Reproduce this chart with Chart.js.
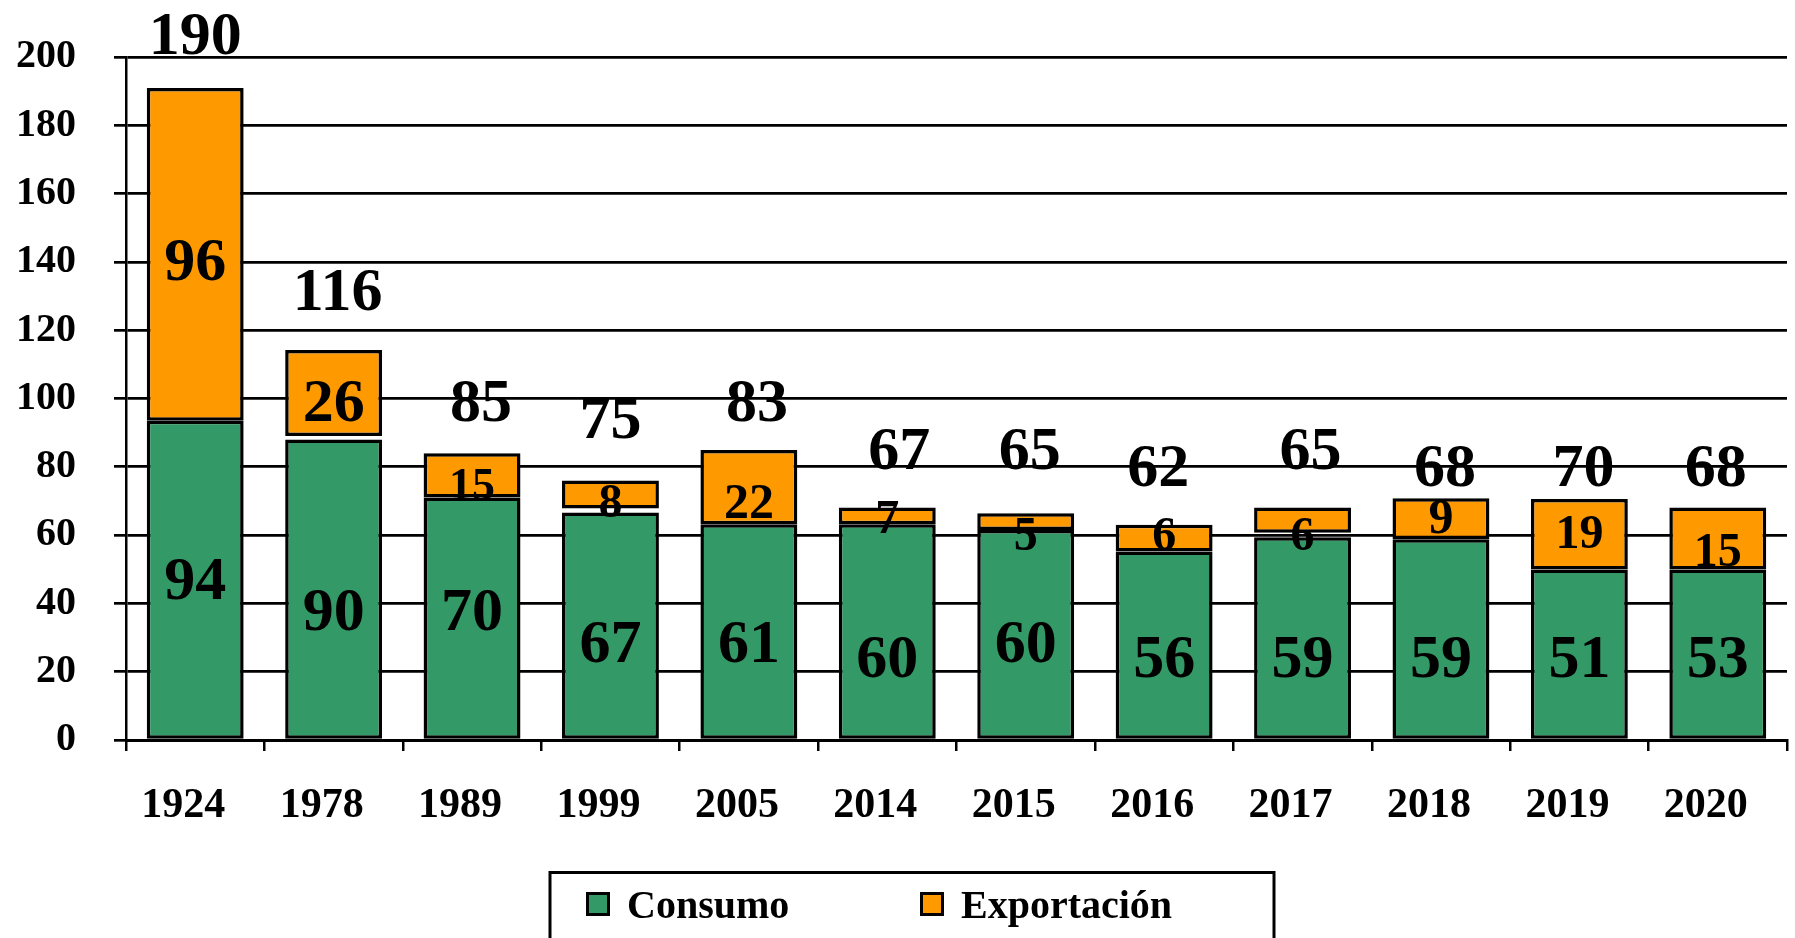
<!DOCTYPE html>
<html>
<head>
<meta charset="utf-8">
<script src="https://cdn.jsdelivr.net/npm/chart.js@4.4.1/dist/chart.umd.min.js"></script>
<style>
  html, body { margin: 0; padding: 0; background: #fff; }
  #wrap { width: 1795px; height: 938px; }
</style>
</head>
<body>
<div id="wrap"><canvas id="production"></canvas></div>
<script>
const years = ["1924", "1978", "1989", "1999", "2005", "2014", "2015", "2016", "2017", "2018", "2019", "2020"];

// bar extents as drawn in the picture
const consumo = [93.5, 88, 71, 66.6, 63.2, 63.2, 61.5, 55.2, 59.4, 58.8, 49.9, 49.9];
const exportLow = [93.5, 89, 71, 67.8, 63.2, 63.2, 61.5, 55.2, 60.7, 58.8, 49.9, 49.9];
const exportHigh = [190.9, 114.2, 84, 76, 84.9, 68.1, 66.4, 63, 68.1, 70.8, 70.6, 68.1];

// printed numbers
const consumoLabels = [94, 90, 70, 67, 61, 60, 60, 56, 59, 59, 51, 53];
const exportLabels = [96, 26, 15, 8, 22, 7, 5, 6, 6, 9, 19, 15];
const totalLabels = [190, 116, 85, 75, 83, 67, 65, 62, 65, 68, 70, 68];

const yMax = 200;
const yStep = 20;

// where the printed numbers sit (value units) and how big they are
const totalAt = [207, 132, 99.5, 94.5, 99.5, 85.5, 85.5, 80.5, 85.5, 80.5, 80.5, 80.5];
const totalShift = [0, 4, 9, 0, 8, 12, 4, -6, 8, 4, 4, -2];
const exportAt = [141, 99.5, 75, 70, 70, 65.5, 60.5, 60.5, 60.5, 65.5, 61, 55.7];
const consumoAt = [47.4, 38.3, 38.3, 29, 29, 24.5, 29, 24.5, 24.5, 24.5, 24.5, 24.5];
const exportSize = [62, 62, 46, 48, 50, 48, 48, 48, 48, 50, 48, 48];

const FONT = "'Liberation Serif', 'Times New Roman', serif";
const GREEN = "#339966";
const ORANGE = "#ff9900";

const numberLabels = {
  id: "numberLabels",
  afterDatasetsDraw(chart) {
    const ctx = chart.ctx;
    const y = chart.scales.y;
    const bars = chart.getDatasetMeta(0).data;
    ctx.save();
    ctx.fillStyle = "#000";
    ctx.textAlign = "center";
    ctx.textBaseline = "alphabetic";
    const put = (txt, i, at, size, dx) => {
      ctx.font = "bold " + size + "px " + FONT;
      ctx.fillText(String(txt), bars[i].x + dx, y.getPixelForValue(at) + size * 0.34);
    };
    years.forEach((yr, i) => {
      put(consumoLabels[i], i, consumoAt[i], 62, 0);
      put(exportLabels[i], i, exportAt[i], exportSize[i], 0);
      put(totalLabels[i], i, totalAt[i], 62, totalShift[i]);
    });
    ctx.restore();
  }
};

const boxLegend = {
  id: "boxLegend",
  afterDraw(chart) {
    const ctx = chart.ctx;
    const left = 550, top = 872.5, width = 724;
    ctx.save();
    ctx.lineWidth = 3;
    ctx.strokeStyle = "#000";
    ctx.strokeRect(left, top, width, 80);
    const items = [
      { text: "Consumo", color: GREEN, dx: 36 },
      { text: "Exportación", color: ORANGE, dx: 370 }
    ];
    ctx.font = "bold 40px " + FONT;
    ctx.textBaseline = "alphabetic";
    ctx.textAlign = "left";
    items.forEach(it => {
      ctx.fillStyle = "#000";
      ctx.fillRect(left + it.dx, 892, 24, 24);
      ctx.fillStyle = it.color;
      ctx.fillRect(left + it.dx + 3, 895, 18, 18);
      ctx.fillStyle = "#000";
      ctx.fillText(it.text, left + it.dx + 41, 918);
    });
    ctx.restore();
  }
};

new Chart(document.getElementById("production"), {
  type: "bar",
  data: {
    labels: years,
    datasets: [{
      label: "Consumo",
      data: consumo,
      backgroundColor: GREEN,
      borderColor: "#000",
      borderWidth: 3.5,
      borderSkipped: false
    }, {
      label: "Exportación",
      data: exportLow.map((lo, i) => [lo, exportHigh[i]]),
      backgroundColor: ORANGE,
      borderColor: "#000",
      borderWidth: 3.5,
      borderSkipped: false
    }]
  },
  options: {
    responsive: true,
    maintainAspectRatio: false,
    animation: false,
    layout: {
      padding: { left: 0, right: 8, top: 57, bottom: 0 }
    },
    barPercentage: 0.7,
    categoryPercentage: 1,
    scales: {
      x: {
        stacked: true,
        afterFit: s => { s.height = 198; },
        grid: {
          offset: true,
          drawOnChartArea: false,
          drawTicks: true,
          tickLength: 11,
          color: "#000",
          lineWidth: 2.5
        },
        border: { color: "#000", width: 3 },
        ticks: {
          color: "#000",
          padding: 30,
          labelOffset: -12,
          maxRotation: 0,
          font: { family: FONT, size: 42, weight: "bold" }
        }
      },
      y: {
        stacked: false,
        min: 0,
        max: yMax,
        afterFit: s => {
          s.width = 126;
          s.paddingTop = 0;
          s.paddingBottom = 0;
        },
        grid: {
          color: "#000",
          lineWidth: 2.7,
          tickLength: 12
        },
        border: { color: "#000", width: 2.5 },
        ticks: {
          stepSize: yStep,
          color: "#000",
          padding: 38,
          font: { family: FONT, size: 40, weight: "bold" }
        }
      }
    },
    plugins: {
      legend: { display: false },
      tooltip: { enabled: false }
    }
  },
  plugins: [numberLabels, boxLegend]
});
</script>
</body>
</html>
